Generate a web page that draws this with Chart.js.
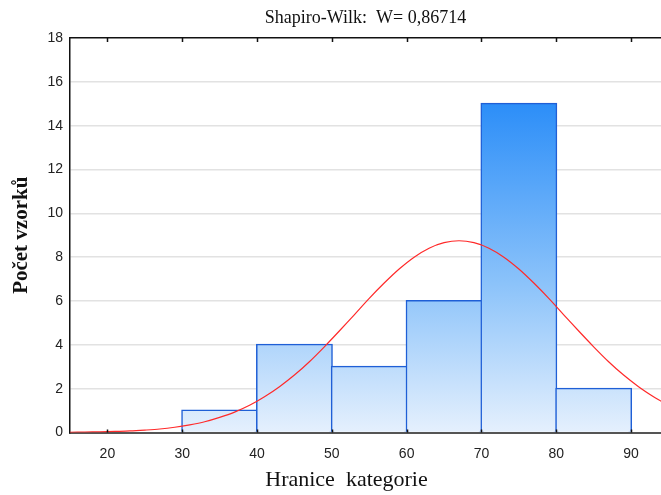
<!DOCTYPE html>
<html>
<head>
<meta charset="utf-8">
<script src="https://cdn.jsdelivr.net/npm/chart.js@4/dist/chart.umd.min.js"></script>
<style>
  html, body { margin: 0; padding: 0; background: #fff; }
  #wrap { width: 661px; height: 495px; }
</style>
</head>
<body>
<div id="wrap"><canvas id="c" width="661" height="495"></canvas></div>
<script>
// Histogram classes (centres of 10-unit bins) and sample counts
const binCenters = [35, 45, 55, 65, 75, 85];
const binCounts  = [1, 4, 3, 6, 15, 2];

// Fitted normal curve, sampled along the x axis
const curveX = [15, 17, 19, 21, 23, 25, 27, 29, 31, 33, 35, 37, 39, 41, 43, 45, 47, 49, 51, 53,
                55, 57, 59, 61, 63, 65, 67, 69, 71, 73, 75, 77, 79, 81, 83, 85, 87, 89, 91, 93, 94];
const curveY = [0.01, 0.02, 0.03, 0.05, 0.07, 0.11, 0.16, 0.24, 0.35, 0.49, 0.69, 0.93, 1.24, 1.63,
                2.09, 2.62, 3.23, 3.91, 4.63, 5.37, 6.12, 6.82, 7.46, 8.00, 8.41, 8.66, 8.75, 8.66,
                8.41, 8.00, 7.46, 6.82, 6.12, 5.37, 4.63, 3.91, 3.23, 2.62, 2.09, 1.63, 1.43];

// Axis ticks and range
const xTicks = [20, 30, 40, 50, 60, 70, 80, 90];
const yTicks = [0, 2, 4, 6, 8, 10, 12, 14, 16, 18];
const xMin = 15, xMax = 94;
const yMin = 0, yMax = 18;

// Texts
const chartTitle = 'Shapiro-Wilk:  W= 0,86714';
const xTitle = 'Hranice  kategorie';
const yTitle = 'Počet vzorků';

Chart.defaults.font.family = '"Liberation Sans", Arial, sans-serif';

function barGradient(context) {
  const chart = context.chart;
  const { ctx, chartArea, scales } = chart;
  if (!chartArea) return 'rgb(120,180,245)';
  const y0 = scales.y.getPixelForValue(15);
  const y1 = scales.y.getPixelForValue(0);
  const g = ctx.createLinearGradient(0, y0, 0, y1);
  g.addColorStop(0, 'rgb(44,142,248)');
  g.addColorStop(0.55, 'rgb(140,195,250)');
  g.addColorStop(1, 'rgb(229,240,253)');
  return g;
}

// Tick marks on the top frame and on the bottom axis, pointing into the plot
const frameTicks = {
  id: 'frameTicks',
  afterDraw(chart) {
    const { ctx, chartArea, scales } = chart;
    ctx.save();
    ctx.strokeStyle = '#111';
    ctx.lineWidth = 1.5;
    xTicks.forEach(v => {
      const px = Math.round(scales.x.getPixelForValue(v)) + 0.5;
      ctx.beginPath();
      ctx.moveTo(px, chartArea.top);
      ctx.lineTo(px, chartArea.top + 4);
      ctx.moveTo(px, chartArea.bottom);
      ctx.lineTo(px, chartArea.bottom - 3);
      ctx.stroke();
    });
    // x-axis caption
    ctx.fillStyle = '#111';
    ctx.font = '22px "Liberation Serif", "Times New Roman", serif';
    ctx.textAlign = 'center';
    ctx.textBaseline = 'middle';
    ctx.fillText(xTitle, (chartArea.left + chartArea.right) / 2 - 19, 480);
    ctx.restore();
  }
};

new Chart(document.getElementById('c'), {
  type: 'bar',
  data: {
    datasets: [
      {
        type: 'line',
        data: curveX.map((x, i) => ({ x, y: curveY[i] })),
        borderColor: '#ff2a2a',
        borderWidth: 1.2,
        pointRadius: 0,
        tension: 0.3,
        fill: false,
        order: 0
      },
      {
        type: 'bar',
        data: binCenters.map((x, i) => ({ x, y: binCounts[i] })),
        backgroundColor: barGradient,
        borderColor: '#1f5fd6',
        borderWidth: 1.5,
        borderSkipped: 'bottom',
        inflateAmount: 1,
        barPercentage: 1,
        categoryPercentage: 1,
        order: 1
      }
    ]
  },
  options: {
    responsive: false,
    animation: false,
    devicePixelRatio: 1,
    layout: { padding: 0 },
    plugins: {
      legend: { display: false },
      tooltip: { enabled: false },
      title: { display: false }
    },
    scales: {
      x: {
        type: 'linear',
        position: 'bottom',
        min: xMin,
        max: xMax,
        offset: false,
        afterBuildTicks: s => { s.ticks = xTicks.map(v => ({ value: v })); },
        afterFit: s => { s.height = 62.5; },
        grid: { display: false, offset: false },
        border: { display: true, color: '#555', width: 2 },
        ticks: {
          color: '#222',
          font: { size: 14 },
          padding: 5,
          maxRotation: 0,
          autoSkip: false
        }
      },
      x2: {
        type: 'linear',
        axis: 'x',
        position: 'top',
        min: xMin,
        max: xMax,
        offset: false,
        afterFit: s => { s.height = 38; },
        grid: { display: false },
        border: { display: true, color: '#111', width: 1.5 },
        ticks: { display: false },
        title: {
          display: true,
          text: chartTitle,
          color: '#111',
          font: { family: '"Liberation Serif", "Times New Roman", serif', size: 18 },
          padding: { top: 7, bottom: 0 }
        }
      },
      y: {
        type: 'linear',
        min: yMin,
        max: yMax,
        afterBuildTicks: s => { s.ticks = yTicks.map(v => ({ value: v })); },
        afterFit: s => { s.width = 70; },
        grid: {
          drawTicks: false,
          lineWidth: 1.5,
          color: c => (c.tick && (c.tick.value === yMin || c.tick.value === yMax)) ? 'rgba(0,0,0,0)' : '#e2e2e2'
        },
        border: { display: true, color: '#111', width: 1.5 },
        ticks: {
          color: '#222',
          font: { size: 14 },
          padding: 7
        },
        title: {
          display: true,
          text: yTitle,
          color: '#111',
          font: { family: '"Liberation Serif", "Times New Roman", serif', size: 21, weight: 'bold' },
          padding: { top: 9, bottom: 0 }
        }
      }
    }
  },
  plugins: [frameTicks]
});
</script>
</body>
</html>
